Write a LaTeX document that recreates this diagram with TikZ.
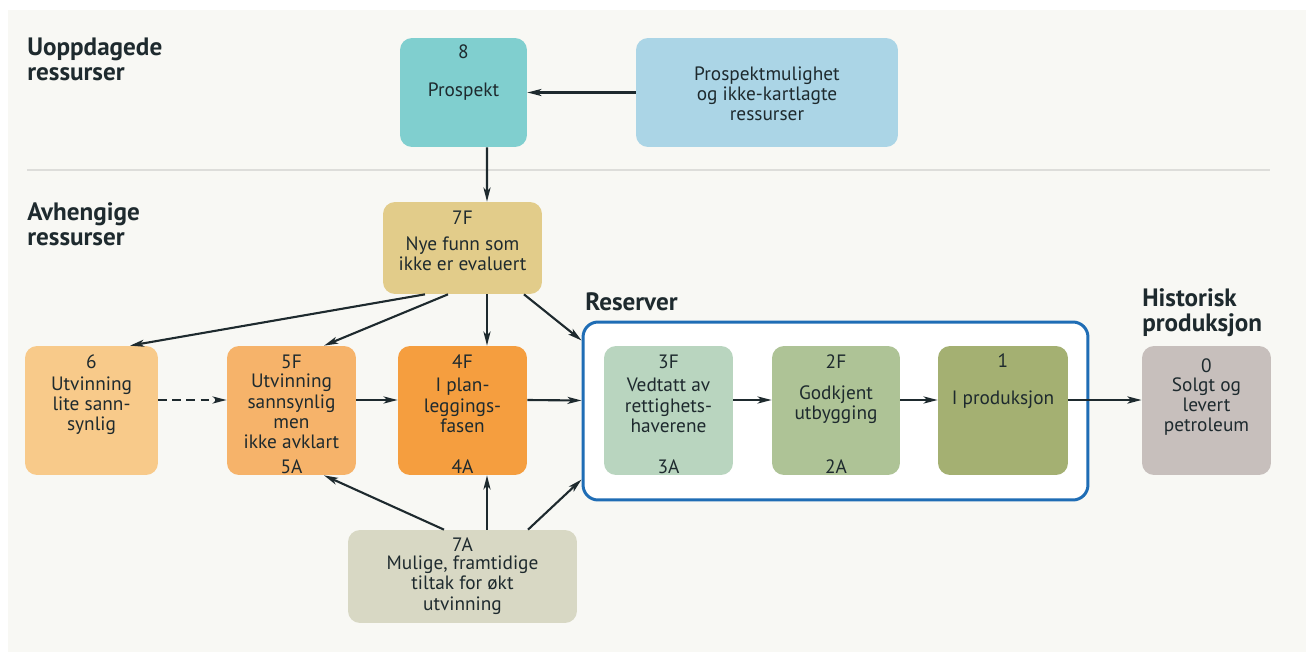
\documentclass[tikz,border=0pt]{standalone}
\usepackage{fontspec}
\setmainfont{PT Sans}
\usepackage{tikz}
\usetikzlibrary{arrows.meta}

\definecolor{panel}{HTML}{F8F8F4}
\definecolor{ink}{HTML}{1E2A2E}
\definecolor{rule}{HTML}{DDDDDA}
\definecolor{resblue}{HTML}{1F6DB5}
\definecolor{c8}{HTML}{80CFCF}
\definecolor{cpm}{HTML}{ABD5E6}
\definecolor{c7F}{HTML}{E2CC8A}
\definecolor{c6}{HTML}{F8CA8A}
\definecolor{c5}{HTML}{F6B36A}
\definecolor{c4}{HTML}{F59E3F}
\definecolor{c3}{HTML}{B9D5BF}
\definecolor{c2}{HTML}{AEC396}
\definecolor{c1}{HTML}{A4B072}
\definecolor{c0}{HTML}{C7BFBC}
\definecolor{c7A}{HTML}{D8D8C4}

\begin{document}
\begin{tikzpicture}[x=0.02cm, y=-0.02cm,
  box/.style={rounded corners=0.24cm, inner sep=0pt, minimum width=2.58cm, minimum height=2.58cm},
  txt/.style={text=ink, font=\fontsize{11}{11.5}\selectfont, align=center, inner sep=0pt},
  head/.style={text=ink, font=\fontsize{14.3}{14.2}\selectfont\bfseries, align=left, inner sep=0pt, anchor=west},
  arr/.style={draw=ink, line width=1.2pt, -{Stealth[length=8pt,width=4pt,inset=2pt]}},
]
\useasboundingbox (0,0) rectangle (1306,652);
\fill[white] (0,0) rectangle (1306,652);
\fill[panel] (8,10) rectangle (1306,652);
\draw[rule, line width=1.2pt] (27,170) -- (1270,170);

% headings
\node[head] (hU) at (27,59.5) {Uoppdagede\\ressurser};
\node[head] (hA) at (27,224.5) {Avhengige\\ressurser};
\node[head] (hR) at (585,302) {Reserver};
\node[head] (hH) at (1142,313) {Historisk\\produksjon};

% undiscovered
\node[box, fill=c8, minimum width=2.54cm, minimum height=2.18cm] (p8) at (463.5,92.5) {};
\node[txt] (n8) at (463.5,52) {8};
\node[txt] (t8) at (463.5,92) {Prospekt};
\node[box, fill=cpm, minimum width=5.24cm, minimum height=2.18cm] (pm) at (767,92.5) {};
\node[txt] (tpm) at (767,94) {Prospektmulighet\\og ikke-kartlagte\\ressurser};

% contingent
\node[box, fill=c7F, minimum width=3.18cm, minimum height=1.84cm] (p7F) at (462.5,248) {};
\node[txt] (n7F) at (462.5,218) {7F};
\node[txt] (t7F) at (462.5,254) {Nye funn som\\ikke er evaluert};

\node[box, fill=c6, minimum width=2.66cm] (p6) at (91.5,410.5) {};
\node[txt] (n6) at (91.5,362) {6};
\node[txt] (t6) at (91.5,406) {Utvinning\\lite sann-\\synlig};

\node[box, fill=c5] (p5) at (291.5,410.5) {};
\node[txt] (n5F) at (291.5,362) {5F};
\node[txt] (t5) at (291.5,411.5) {Utvinning\\sannsynlig\\men\\ikke avklart};
\node[txt] (n5A) at (291.5,467) {5A};

\node[box, fill=c4] (p4) at (462.5,410.5) {};
\node[txt] (n4F) at (462.5,362) {4F};
\node[txt] (t4) at (462.5,405.5) {I plan-\\leggings-\\fasen};
\node[txt] (n4A) at (462.5,467) {4A};

\node[box, fill=c7A, minimum width=4.58cm, minimum height=1.86cm] (p7A) at (462.5,576.5) {};
\node[txt] (n7A) at (462.5,545) {7A};
\node[txt] (t7A) at (462.5,585) {Mulige, framtidige\\tiltak for økt\\utvinning};

% reserves
\node[draw=resblue, line width=1.7pt, fill=white, rounded corners=0.3cm, inner sep=0pt,
  minimum width=10.1cm, minimum height=3.56cm] (res) at (835.5,411) {};

\node[box, fill=c3] (p3) at (668.5,410.5) {};
\node[txt] (n3F) at (668.5,362) {3F};
\node[txt] (t3) at (668.5,405.5) {Vedtatt av\\rettighets-\\haverene};
\node[txt] (n3A) at (668.5,467) {3A};

\node[box, fill=c2, minimum width=2.56cm] (p2) at (836,410.5) {};
\node[txt] (n2F) at (836,362) {2F};
\node[txt] (t2) at (836,404.5) {Godkjent\\utbygging};
\node[txt] (n2A) at (836,467) {2A};

\node[box, fill=c1, minimum width=2.6cm] (p1) at (1003,410.5) {};
\node[txt] (n1) at (1003,361) {1};
\node[txt] (t1) at (1003,400) {I produksjon};

% historic
\node[box, fill=c0] (p0) at (1206.5,410.5) {};
\node[txt] (n0) at (1206.5,366) {0};
\node[txt] (t0) at (1206.5,406.5) {Solgt og\\levert\\petroleum};

% arrows
\draw[arr] (pm.west) -- (p8.east);
\draw[arr] ([xshift=0.47cm]p8.south) -- ([xshift=0.49cm]p7F.north);
\draw[arr] ([xshift=-0.75cm]p7F.south) -- ([xshift=0.77cm]p6.north);
\draw[arr] ([xshift=-0.29cm]p7F.south) -- ([xshift=0.65cm]p5.north);
\draw[arr] ([xshift=0.49cm]p7F.south) -- ([xshift=0.49cm]p4.north);
\draw[arr] ([xshift=1.23cm]p7F.south) -- ([yshift=-0.4cm]res.north west);
\draw[arr, dash pattern=on 5pt off 3pt] ([yshift=0.21cm]p6.east) -- ([yshift=0.21cm]p5.west);
\draw[arr] ([yshift=0.21cm]p5.east) -- ([yshift=0.21cm]p4.west);
\draw[arr] ([yshift=0.21cm]p4.east) -- ([yshift=0.21cm]res.west);
\draw[arr] ([xshift=-0.37cm]p7A.north) -- ([xshift=0.65cm]p5.south);
\draw[arr] ([xshift=0.49cm]p7A.north) -- ([xshift=0.49cm]p4.south);
\draw[arr] ([xshift=1.31cm]p7A.north) -- ([yshift=0.44cm]res.south west);
\draw[arr] ([yshift=0.21cm]p3.east) -- ([yshift=0.21cm]p2.west);
\draw[arr] ([yshift=0.21cm]p2.east) -- ([yshift=0.21cm]p1.west);
\draw[arr, line width=1.7pt] ([yshift=0.21cm]p1.east) -- ([yshift=0.21cm]p0.west);
\end{tikzpicture}
\end{document}
